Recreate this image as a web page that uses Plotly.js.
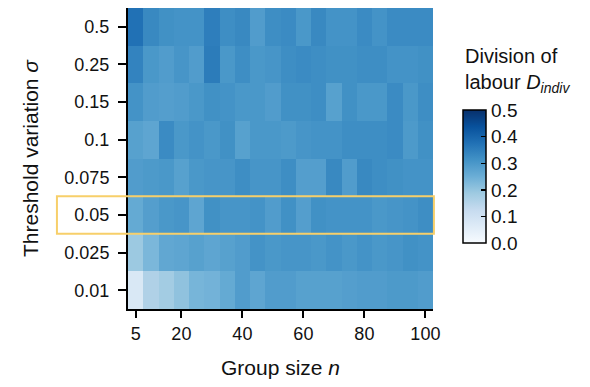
<!DOCTYPE html>
<html>
<head>
<meta charset="utf-8">
<script src="https://cdn.plot.ly/plotly-3.0.1.min.js"></script>
<style>html,body{margin:0;padding:0;background:#fff;}#chart{width:590px;height:387px;}</style>
</head>
<body>
<div id="chart"></div>
<script>
// Group sizes n (columns)
var groupSize = [5,10,15,20,25,30,35,40,45,50,55,60,65,70,75,80,85,90,95,100];
// Threshold variation sigma (rows, bottom to top)
var sigmaLabels = ["0.01","0.025","0.05","0.075","0.1","0.15","0.25","0.5"];
// Division of labour D_indiv per row
var row001  = [0.075,0.16,0.18,0.205,0.235,0.24,0.26,0.29,0.27,0.29,0.29,0.28,0.28,0.28,0.285,0.29,0.29,0.295,0.295,0.29];
var row0025 = [0.19,0.23,0.265,0.27,0.28,0.27,0.28,0.29,0.31,0.30,0.305,0.305,0.30,0.31,0.30,0.31,0.30,0.305,0.315,0.31];
var row005  = [0.26,0.285,0.30,0.305,0.27,0.315,0.305,0.305,0.31,0.29,0.315,0.285,0.315,0.31,0.31,0.31,0.30,0.305,0.31,0.32];
var row0075 = [0.29,0.295,0.30,0.28,0.30,0.305,0.305,0.32,0.305,0.305,0.32,0.285,0.285,0.33,0.29,0.33,0.32,0.315,0.31,0.31];
var row01   = [0.28,0.27,0.325,0.30,0.31,0.30,0.315,0.28,0.30,0.30,0.295,0.305,0.31,0.31,0.32,0.32,0.32,0.325,0.295,0.315];
var row015  = [0.31,0.29,0.285,0.29,0.30,0.315,0.31,0.30,0.30,0.29,0.315,0.315,0.32,0.28,0.315,0.30,0.30,0.325,0.30,0.32];
var row025  = [0.34,0.30,0.29,0.305,0.29,0.355,0.30,0.32,0.30,0.305,0.32,0.325,0.32,0.315,0.315,0.32,0.32,0.31,0.31,0.315];
var row05   = [0.375,0.33,0.315,0.31,0.31,0.35,0.32,0.33,0.29,0.32,0.325,0.30,0.33,0.31,0.31,0.325,0.31,0.325,0.325,0.325];
var xTicks = [5,20,40,60,80,100];
var cbTicks = [0,0.1,0.2,0.3,0.4,0.5];
var highlightSigma = "0.05";

var z = [row001,row0025,row005,row0075,row01,row015,row025,row05];
var blues = [
  [0,"#f7fbff"],[0.125,"#deebf7"],[0.25,"#c6dbef"],[0.375,"#9ecae1"],
  [0.5,"#6baed6"],[0.625,"#4292c6"],[0.75,"#2171b5"],[0.875,"#08519c"],[1,"#08306b"]
];
var font = {family:"Liberation Sans, Arial, sans-serif", color:"#111"};
var hi = sigmaLabels.indexOf(highlightSigma);

var trace = {
  type:"heatmap", x:groupSize, y:sigmaLabels, z:z,
  zmin:0, zmax:0.5, colorscale:blues,
  colorbar:{
    x:1.098, xanchor:"left", xpad:0, ypad:0,
    y:0.44, yanchor:"middle", lenmode:"pixels", len:133, thickness:23,
    outlinewidth:1.5, outlinecolor:"#000",
    tickvals:cbTicks, ticktext:cbTicks.map(function(v){return v.toFixed(1);}),
    ticks:"inside", ticklen:5, tickwidth:1.5, tickcolor:"#000",
    ticklabelstandoff:2,
    tickfont:{family:font.family, color:font.color, size:19}
  }
};

var layout = {
  width:590, height:387,
  margin:{l:128, r:157, t:8, b:78},
  paper_bgcolor:"#fff", plot_bgcolor:"#fff",
  font:font,
  xaxis:{
    range:[2.5,102.5], tickvals:xTicks, showgrid:false, zeroline:false,
    showline:true, linecolor:"#000", linewidth:2,
    ticks:"outside", ticklen:7, tickwidth:2, tickcolor:"#000",
    tickfont:{size:18},
    title:{text:"Group size <i>n</i>", font:{size:21}, standoff:18}
  },
  yaxis:{
    type:"category", showgrid:false, zeroline:false,
    showline:true, linecolor:"#000", linewidth:2,
    ticks:"outside", ticklen:8, tickwidth:2, tickcolor:"#000",
    ticklabelstandoff:5,
    tickfont:{size:18},
    title:{text:"Threshold variation <i>σ</i>", font:{size:21}, standoff:20}
  },
  shapes:[{
    type:"rect", xref:"paper", yref:"y",
    x0:-0.233, x1:1.003, y0:hi-0.5, y1:hi+0.5,
    line:{color:"#f7cf6a", width:2}, fillcolor:"rgba(0,0,0,0)"
  }],
  annotations:[{
    xref:"paper", yref:"paper", x:1.098, y:0.70, xanchor:"left", yanchor:"bottom",
    align:"left", showarrow:false,
    text:"Division of<br>labour <i>D<sub>indiv</sub></i>",
    font:{size:20}
  }]
};

Plotly.newPlot("chart",[trace],layout,{displayModeBar:false,staticPlot:true});
</script>
</body>
</html>
